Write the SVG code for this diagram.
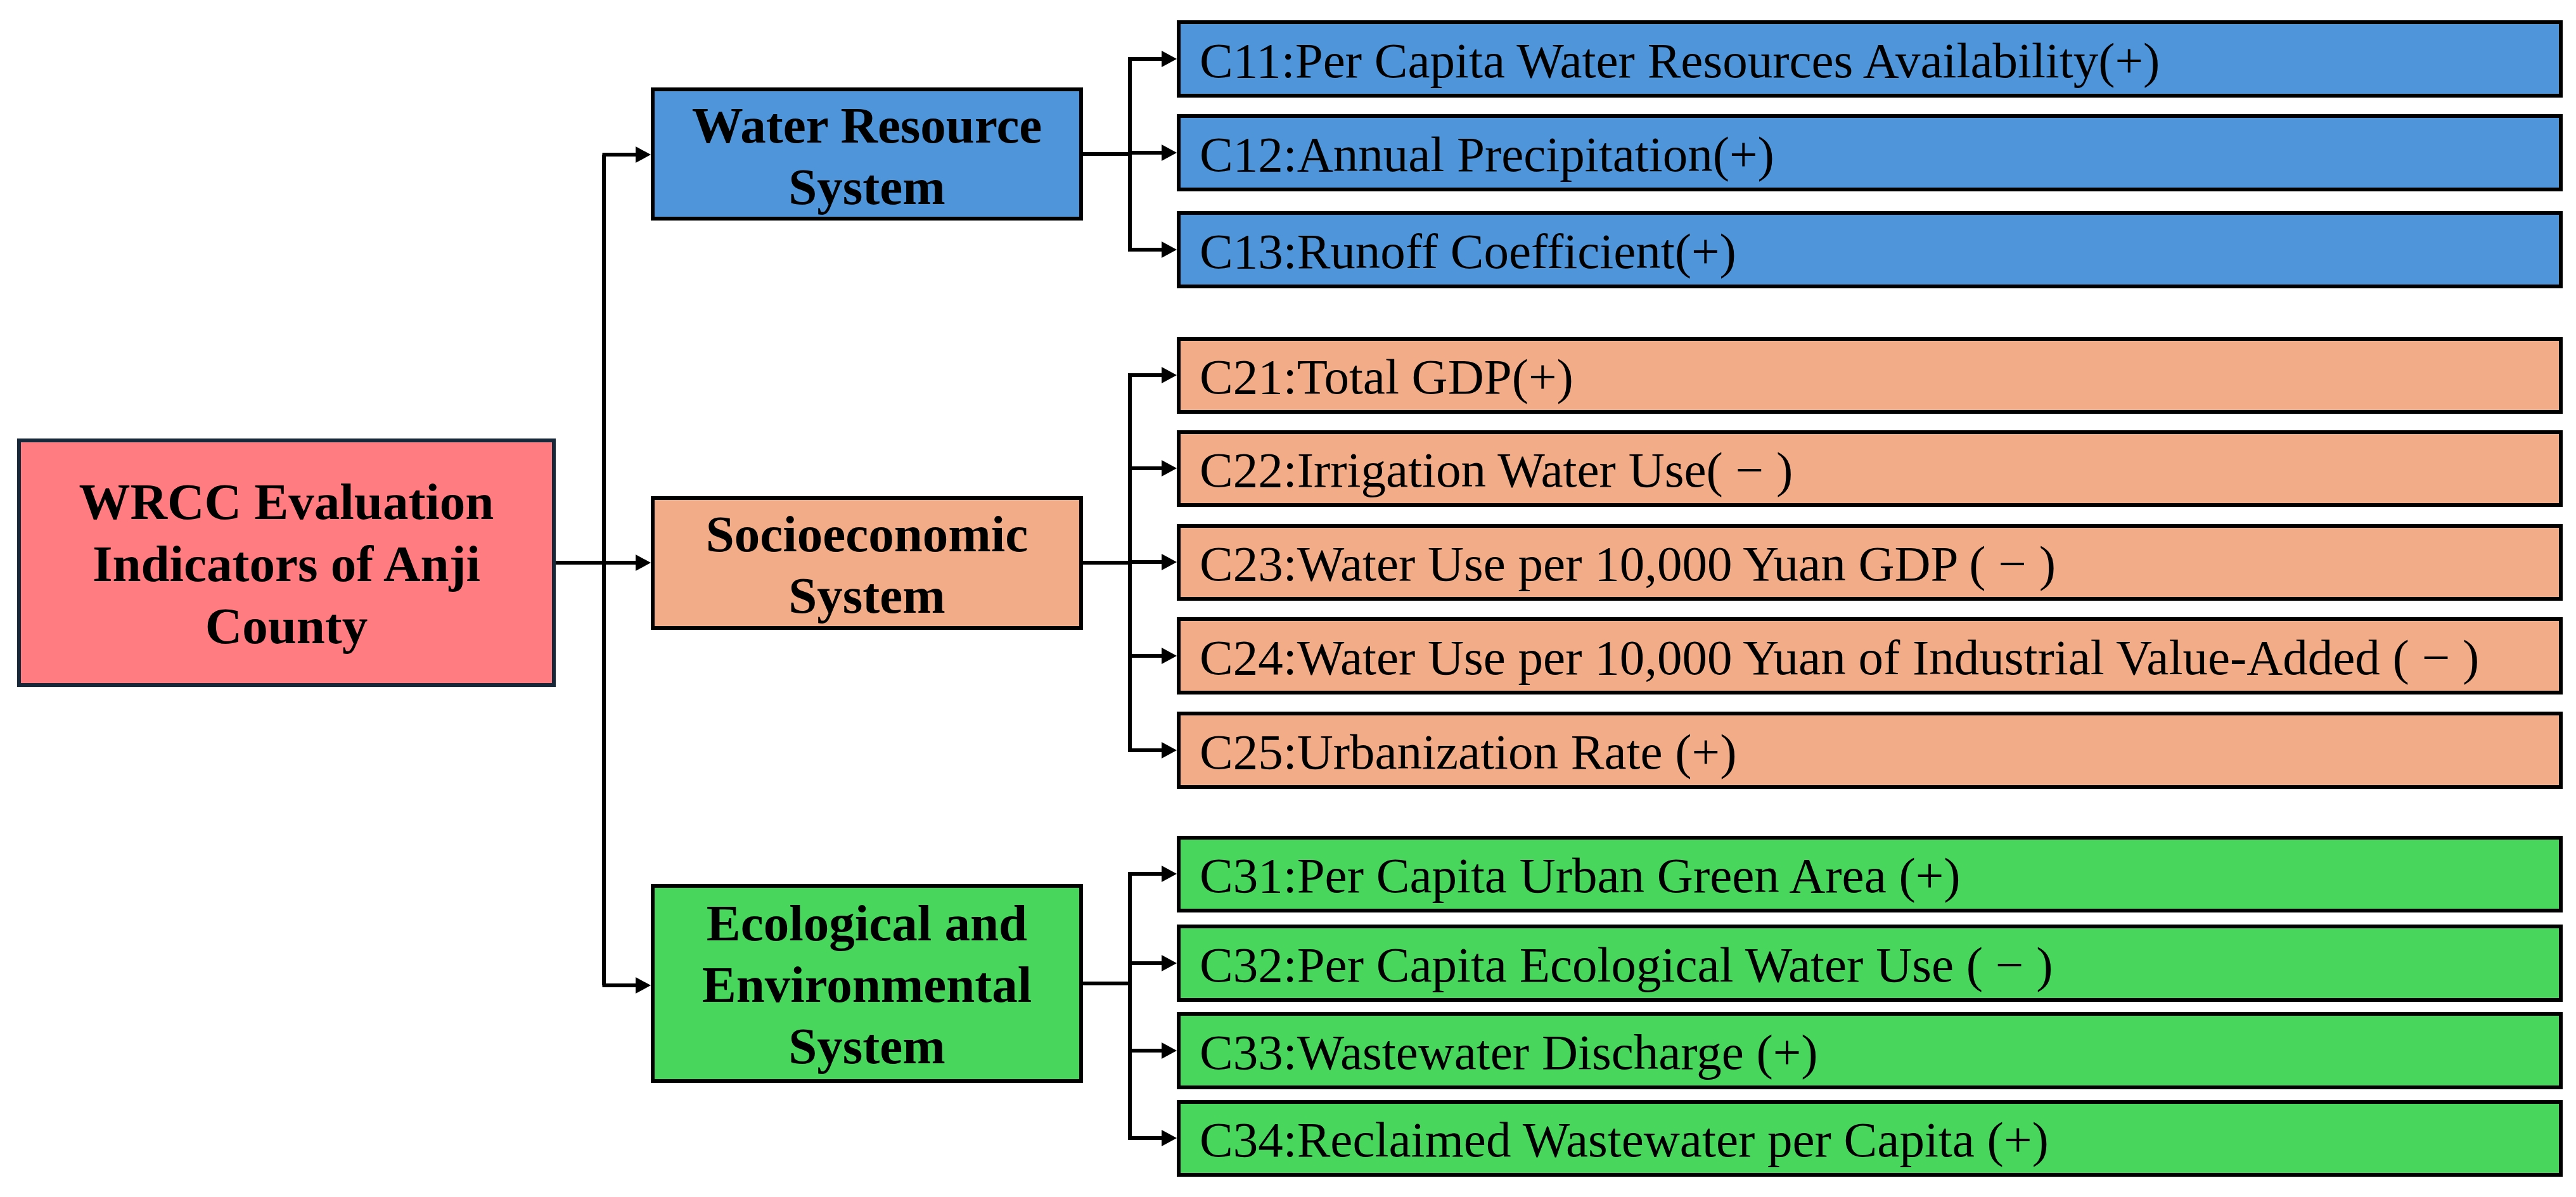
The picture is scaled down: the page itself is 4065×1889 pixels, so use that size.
<svg xmlns="http://www.w3.org/2000/svg" width="4065" height="1889" viewBox="0 0 4065 1889">
<style>
.box{stroke:#000;stroke-width:6}
.root{fill:#FF7C80;stroke:#17283a;stroke-width:6}
.blue{fill:#4F95D9}
.orange{fill:#F2AC87}
.green{fill:#48D65C}
.t{font-family:"Liberation Serif","Times New Roman",serif;font-size:79px;fill:#000}
.b{font-size:81px;font-weight:bold;text-anchor:middle}
.con{fill:none;stroke:#000;stroke-width:6}
</style>
<defs>
<marker id="arr" viewBox="0 0 24 26" refX="4" refY="13" markerWidth="24" markerHeight="26" markerUnits="userSpaceOnUse" orient="auto">
<path d="M0 0 L24 13 L0 26 Z" fill="#000"/>
</marker>
</defs>
<rect width="4065" height="1889" fill="#fff"/>
<g id="connectors">
<path class="con" d="M877 888 H1007" marker-end="url(#arr)"/>
<path class="con" stroke-width="5" d="M953 1555 V244"/>
<path class="con" d="M950.5 244 H1007" marker-end="url(#arr)"/>
<path class="con" d="M950.5 1555 H1007" marker-end="url(#arr)"/>
<path class="con" d="M1709 243 H1783 M1783 90 V397"/>
<path class="con" d="M1780 93 H1837" marker-end="url(#arr)"/>
<path class="con" d="M1783 241 H1837" marker-end="url(#arr)"/>
<path class="con" d="M1780 394 H1837" marker-end="url(#arr)"/>
<path class="con" d="M1709 888 H1783 M1783 589 V1187"/>
<path class="con" d="M1780 592 H1837" marker-end="url(#arr)"/>
<path class="con" d="M1783 739 H1837" marker-end="url(#arr)"/>
<path class="con" d="M1783 887 H1837" marker-end="url(#arr)"/>
<path class="con" d="M1783 1035 H1837" marker-end="url(#arr)"/>
<path class="con" d="M1780 1184 H1837" marker-end="url(#arr)"/>
<path class="con" d="M1709 1552 H1783 M1783 1376 V1799"/>
<path class="con" d="M1780 1379 H1837" marker-end="url(#arr)"/>
<path class="con" d="M1783 1520 H1837" marker-end="url(#arr)"/>
<path class="con" d="M1783 1658 H1837" marker-end="url(#arr)"/>
<path class="con" d="M1780 1796 H1837" marker-end="url(#arr)"/>
</g>
<g id="root">
<rect class="root" x="30" y="695" width="844" height="386"/>
<text class="t b" x="452" y="819">WRCC Evaluation</text>
<text class="t b" x="452" y="917">Indicators of Anji</text>
<text class="t b" x="452" y="1015">County</text>
</g>
<g id="water-resource-system">
<rect class="box blue" x="1030" y="141" width="676" height="204"/>
<text class="t b" x="1368" y="225">Water Resource</text>
<text class="t b" x="1368" y="322">System</text>
</g>
<g id="socioeconomic-system">
<rect class="box orange" x="1030" y="786" width="676" height="205"/>
<text class="t b" x="1368" y="870">Socioeconomic</text>
<text class="t b" x="1368" y="967">System</text>
</g>
<g id="ecological-system">
<rect class="box green" x="1030" y="1398" width="676" height="308"/>
<text class="t b" x="1368" y="1484">Ecological and</text>
<text class="t b" x="1368" y="1581">Environmental</text>
<text class="t b" x="1368" y="1678">System</text>
</g>
<g id="C11"><rect class="box blue" x="1860" y="35" width="2181" height="116"/><text class="t" x="1893" y="122">C11:Per Capita Water Resources Availability(+)</text></g>
<g id="C12"><rect class="box blue" x="1860" y="183" width="2181" height="116"/><text class="t" x="1893" y="270">C12:Annual Precipitation(+)</text></g>
<g id="C13"><rect class="box blue" x="1860" y="336" width="2181" height="116"/><text class="t" x="1893" y="423">C13:Runoff Coefficient(+)</text></g>
<g id="C21"><rect class="box orange" x="1860" y="535" width="2181" height="115"/><text class="t" x="1893" y="621">C21:Total GDP(+)</text></g>
<g id="C22"><rect class="box orange" x="1860" y="682" width="2181" height="115"/><text class="t" x="1893" y="768">C22:Irrigation Water Use( − )</text></g>
<g id="C23"><rect class="box orange" x="1860" y="830" width="2181" height="115"/><text class="t" x="1893" y="916">C23:Water Use per 10,000 Yuan GDP ( − )</text></g>
<g id="C24"><rect class="box orange" x="1860" y="977" width="2181" height="116"/><text class="t" x="1893" y="1064">C24:Water Use per 10,000 Yuan of Industrial Value-Added ( − )</text></g>
<g id="C25"><rect class="box orange" x="1860" y="1126" width="2181" height="116"/><text class="t" x="1893" y="1213">C25:Urbanization Rate (+)</text></g>
<g id="C31"><rect class="box green" x="1860" y="1322" width="2181" height="115"/><text class="t" x="1893" y="1408">C31:Per Capita Urban Green Area (+)</text></g>
<g id="C32"><rect class="box green" x="1860" y="1462" width="2181" height="116"/><text class="t" x="1893" y="1549">C32:Per Capita Ecological Water Use ( − )</text></g>
<g id="C33"><rect class="box green" x="1860" y="1600" width="2181" height="116"/><text class="t" x="1893" y="1687">C33:Wastewater Discharge (+)</text></g>
<g id="C34"><rect class="box green" x="1860" y="1739" width="2181" height="115"/><text class="t" x="1893" y="1825">C34:Reclaimed Wastewater per Capita (+)</text></g>
</svg>
